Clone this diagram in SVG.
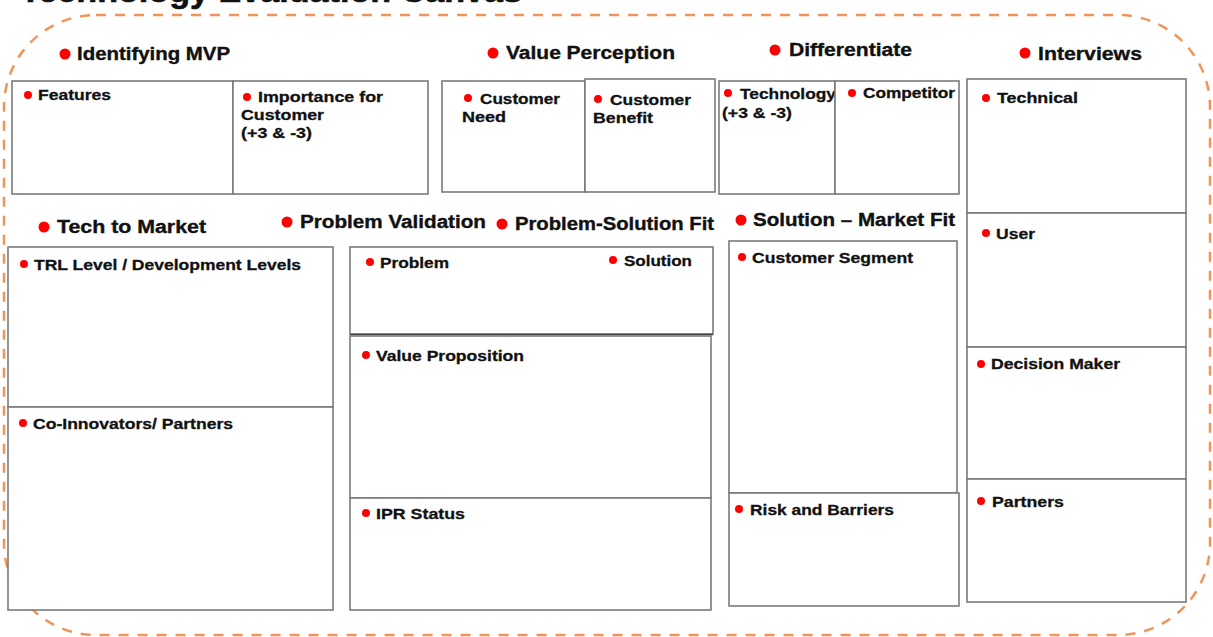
<svg xmlns="http://www.w3.org/2000/svg" width="1213" height="637" viewBox="0 0 1213 637">
<style>
.bg{fill:#ffffff}
.frame{fill:none;stroke:#F0955A;stroke-width:2.5;stroke-dasharray:10 9}
.box{fill:#ffffff;stroke:#7a7a7a;stroke-width:1.6}
.title{font-family:"Liberation Sans",Arial,sans-serif;font-weight:bold;font-size:32px;fill:#111;stroke:#111;stroke-width:0.6}
.h{font-family:"Liberation Sans",Arial,sans-serif;font-weight:bold;font-size:17.5px;fill:#111;stroke:#111;stroke-width:0.35}
.l{font-family:"Liberation Sans",Arial,sans-serif;font-weight:bold;font-size:15px;fill:#111;stroke:#111;stroke-width:0.3}
.hd{fill:#ff0000}
.ld{fill:#ff0000}
</style>
<rect class="bg" x="0" y="0" width="1213" height="637"/>
<text class="title" x="20" y="2" textLength="502" lengthAdjust="spacingAndGlyphs">Technology Evaluation Canvas</text>
<rect class="frame" x="4" y="15" width="1206" height="620" rx="92" ry="92"/>

<g id="identifying-mvp">
<circle class="hd" cx="65" cy="54" r="5.5"/>
<text class="h" x="77" y="60" textLength="153" lengthAdjust="spacingAndGlyphs">Identifying MVP</text>
</g>
<g id="features">
<rect class="box" x="12" y="81" width="221" height="113"/>
<circle class="ld" cx="28" cy="95" r="4"/>
<text class="l" x="38" y="100" textLength="73" lengthAdjust="spacingAndGlyphs">Features</text>
</g>
<g id="importance">
<rect class="box" x="233" y="81" width="195" height="113"/>
<circle class="ld" cx="247" cy="97" r="4"/>
<text class="l" x="258" y="102" textLength="125" lengthAdjust="spacingAndGlyphs">Importance for</text>
<text class="l" x="241" y="120" textLength="83" lengthAdjust="spacingAndGlyphs">Customer</text>
<text class="l" x="241" y="138" textLength="71" lengthAdjust="spacingAndGlyphs">(+3 &amp; -3)</text>
</g>

<g id="value-perception">
<circle class="hd" cx="493" cy="53" r="5.5"/>
<text class="h" x="506" y="59" textLength="169" lengthAdjust="spacingAndGlyphs">Value Perception</text>
</g>
<g id="customer-need">
<rect class="box" x="442" y="81" width="143" height="111"/>
<circle class="ld" cx="468" cy="98" r="4"/>
<text class="l" x="480" y="104" textLength="80" lengthAdjust="spacingAndGlyphs">Customer</text>
<text class="l" x="462" y="122" textLength="44" lengthAdjust="spacingAndGlyphs">Need</text>
</g>
<g id="customer-benefit">
<rect class="box" x="585" y="79" width="130" height="113"/>
<circle class="ld" cx="598" cy="99" r="4"/>
<text class="l" x="610" y="105" textLength="81" lengthAdjust="spacingAndGlyphs">Customer</text>
<text class="l" x="593" y="123" textLength="60" lengthAdjust="spacingAndGlyphs">Benefit</text>
</g>

<g id="differentiate">
<circle class="hd" cx="775" cy="50" r="5.5"/>
<text class="h" x="789" y="56" textLength="123" lengthAdjust="spacingAndGlyphs">Differentiate</text>
</g>
<g id="technology">
<rect class="box" x="719" y="81" width="116" height="113"/>
<circle class="ld" cx="728" cy="93" r="4"/>
<text class="l" x="740" y="99" textLength="96" lengthAdjust="spacingAndGlyphs">Technology</text>
<text class="l" x="722" y="118" textLength="70" lengthAdjust="spacingAndGlyphs">(+3 &amp; -3)</text>
</g>
<g id="competitor">
<rect class="box" x="835" y="81" width="124" height="113"/>
<circle class="ld" cx="852" cy="93" r="4"/>
<text class="l" x="863" y="98" textLength="92" lengthAdjust="spacingAndGlyphs">Competitor</text>
</g>

<g id="interviews">
<circle class="hd" cx="1025" cy="53" r="5.5"/>
<text class="h" x="1038" y="60" textLength="104" lengthAdjust="spacingAndGlyphs">Interviews</text>
</g>
<g id="technical">
<rect class="box" x="967" y="79" width="219" height="134"/>
<circle class="ld" cx="986" cy="98" r="4"/>
<text class="l" x="997" y="103" textLength="81" lengthAdjust="spacingAndGlyphs">Technical</text>
</g>
<g id="user">
<rect class="box" x="967" y="213" width="219" height="134"/>
<circle class="ld" cx="986" cy="233" r="4"/>
<text class="l" x="996" y="239" textLength="39" lengthAdjust="spacingAndGlyphs">User</text>
</g>
<g id="decision-maker">
<rect class="box" x="967" y="347" width="219" height="132"/>
<circle class="ld" cx="981" cy="364" r="4"/>
<text class="l" x="991" y="369" textLength="129" lengthAdjust="spacingAndGlyphs">Decision Maker</text>
</g>
<g id="partners">
<rect class="box" x="967" y="479" width="219" height="123"/>
<circle class="ld" cx="981" cy="501" r="4"/>
<text class="l" x="992" y="507" textLength="72" lengthAdjust="spacingAndGlyphs">Partners</text>
</g>

<g id="tech-to-market">
<circle class="hd" cx="44" cy="227" r="5.5"/>
<text class="h" x="57" y="233" textLength="149" lengthAdjust="spacingAndGlyphs">Tech to Market</text>
</g>
<g id="trl">
<rect class="box" x="8" y="247" width="325" height="160"/>
<circle class="ld" cx="24" cy="264" r="4"/>
<text class="l" x="34" y="270" textLength="267" lengthAdjust="spacingAndGlyphs">TRL Level / Development Levels</text>
</g>
<g id="co-innovators">
<rect class="box" x="8" y="407" width="325" height="203"/>
<circle class="ld" cx="23" cy="423" r="4"/>
<text class="l" x="33" y="429" textLength="200" lengthAdjust="spacingAndGlyphs">Co-Innovators/ Partners</text>
</g>

<g id="problem-validation">
<circle class="hd" cx="287" cy="222" r="5.5"/>
<text class="h" x="300" y="228" textLength="186" lengthAdjust="spacingAndGlyphs">Problem Validation</text>
</g>
<g id="problem-solution-fit">
<circle class="hd" cx="502" cy="224" r="5.5"/>
<text class="h" x="515" y="230" textLength="199" lengthAdjust="spacingAndGlyphs">Problem-Solution Fit</text>
</g>
<g id="problem-solution">
<rect class="box" x="350" y="247" width="363" height="87"/>
<line x1="350" y1="334.5" x2="713" y2="334.5" stroke="#444" stroke-width="1.6"/>
<circle class="ld" cx="370" cy="262" r="4"/>
<text class="l" x="380" y="268" textLength="69" lengthAdjust="spacingAndGlyphs">Problem</text>
<circle class="ld" cx="613" cy="260" r="4"/>
<text class="l" x="624" y="266" textLength="68" lengthAdjust="spacingAndGlyphs">Solution</text>
</g>
<g id="value-proposition">
<rect class="box" x="350" y="336" width="361" height="162"/>
<circle class="ld" cx="366" cy="355" r="4"/>
<text class="l" x="376" y="361" textLength="148" lengthAdjust="spacingAndGlyphs">Value Proposition</text>
</g>
<g id="ipr-status">
<rect class="box" x="350" y="498" width="361" height="112"/>
<circle class="ld" cx="366" cy="513" r="4"/>
<text class="l" x="376" y="519" textLength="89" lengthAdjust="spacingAndGlyphs">IPR Status</text>
</g>

<g id="solution-market-fit">
<circle class="hd" cx="741" cy="220" r="5.5"/>
<text class="h" x="753" y="226" textLength="202" lengthAdjust="spacingAndGlyphs">Solution – Market Fit</text>
</g>
<g id="customer-segment">
<rect class="box" x="729" y="241" width="228" height="252"/>
<circle class="ld" cx="742" cy="257" r="4"/>
<text class="l" x="752" y="263" textLength="161" lengthAdjust="spacingAndGlyphs">Customer Segment</text>
</g>
<g id="risk-barriers">
<rect class="box" x="729" y="493" width="230" height="113"/>
<circle class="ld" cx="739" cy="509" r="4"/>
<text class="l" x="750" y="515" textLength="144" lengthAdjust="spacingAndGlyphs">Risk and Barriers</text>
</g>
</svg>
